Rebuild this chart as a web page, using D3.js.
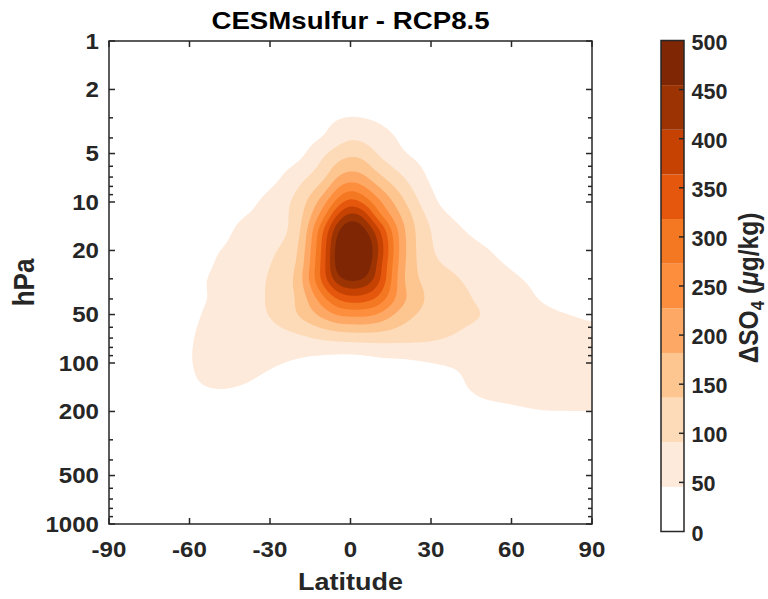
<!DOCTYPE html>
<html><head><meta charset="utf-8">
<script src="https://cdn.jsdelivr.net/npm/d3@7"></script>
<style>body{margin:0;background:#fff;} svg{display:block;}</style>
</head><body>
<svg id="chart" width="768" height="599"></svg>
<script>
// ---------------- data ----------------
const latitudes = [-90,-80,-70,-60,-50,-40,-30,-20,-10,-5,0,5,10,20,30,40,50,60,70,80,90];
const pressures = [1,2,3,4,5,7,10,12,15,20,25,30,40,50,70,100,150,200,300,500,1000];
// delta SO4 (ug/kg), one row per pressure level, columns follow latitudes
const so4 = [
  [0,0,0,0,0,0,0,0,0,0,0,0,0,0,0,0,0,0,0,0,0],
  [0,0,0,0,0,0,0,3,8,12,15,14,12,6,2,0,0,0,0,0,0],
  [0,0,0,0,1,4,10,22,35,43,47,45,40,25,12,6,2,1,0,0,0],
  [1,1,1,2,4,8,15,28,46,70,87,80,65,38,20,10,5,2,1,1,1],
  [2,2,2,4,8,14,22,30,85,112,128,120,88,47,30,18,10,5,2,2,2],
  [2,2,2,4,8,15,30,72,125,182,205,190,150,90,38,20,10,5,2,2,2],
  [2,2,2,5,12,28,62,105,210,290,340,305,245,140,58,20,14,6,2,2,2],
  [2,2,3,7,18,42,68,110,255,365,425,395,290,165,75,36,20,9,4,2,2],
  [2,2,4,10,25,58,75,115,320,445,505,470,385,185,90,52,28,12,6,3,2],
  [3,5,10,20,43,62,85,130,340,480,550,520,420,190,95,72,50,30,15,8,5],
  [4,7,14,28,48,68,91,140,345,475,530,505,400,185,105,82,60,42,26,16,11],
  [6,10,18,35,52,75,95,150,345,440,470,455,390,180,118,93,72,52,38,25,18],
  [6,10,20,38,50,78,95,140,260,320,345,340,310,190,125,102,82,60,45,32,25],
  [5,8,18,38,55,76,93,136,200,232,240,240,225,155,118,100,90,68,55,47,40],
  [5,8,20,42,60,66,72,80,98,104,108,110,110,105,98,86,76,68,62,58,55],
  [3,6,18,43,62,58,50,40,28,24,22,26,32,36,44,50,58,62,64,64,64],
  [2,5,12,35,44,40,30,22,16,15,14,14,15,18,28,38,54,58,60,60,60],
  [1,3,6,12,14,12,8,6,5,5,5,5,6,8,12,20,30,38,44,45,45],
  [1,2,3,4,5,5,4,3,3,3,3,3,3,3,4,6,10,14,18,20,20],
  [0,1,1,2,2,2,2,2,2,2,2,2,2,2,2,2,3,4,5,5,5],
  [0,0,0,0,0,0,0,0,0,0,0,0,0,0,0,0,0,0,0,0,0]
];
const levels = [45.45, 90.91, 136.36, 181.82, 227.27, 272.73, 318.18, 363.64, 409.09, 454.55];
const colors = ["#ffffff","#feeadb","#fddbb8","#fdc590","#fda864","#fd8e3d","#f47722","#e4570d","#c64203","#9c3303","#7f2704"];
const xTicks = [-90,-60,-30,0,30,60,90];
const yTicks = [1,2,5,10,20,50,100,200,500,1000];
const yMinorTicks = [3,4,6,7,8,9,30,40,60,70,80,90,300,400,600,700,800,900];
const cbTicks = [0,50,100,150,200,250,300,350,400,450,500];
const cbMax = 500;

// ---------------- layout ----------------
const L = 109, T = 41, R = 592, B = 524;
const CBX0 = 661, CBX1 = 684, CBT = 40.5, CBB = 531.5;
const ink = "#262626";
const FONT = "'Liberation Sans', Arial, Helvetica, sans-serif";

const svg = d3.select("#chart");
const x = d3.scaleLinear().domain([-90, 90]).range([L, R]);
const y = d3.scaleLog().domain([1, 1000]).range([T, B]);
const cbY = d3.scaleLinear().domain([0, cbMax]).range([CBB, CBT]);

// ---------------- smooth field for rendering (cubic Hermite, Catmull-Rom tangents) ----------------
function tangents(xs, ys) {
  const n = xs.length, m = new Array(n);
  m[0] = (ys[1] - ys[0]) / (xs[1] - xs[0]);
  m[n-1] = (ys[n-1] - ys[n-2]) / (xs[n-1] - xs[n-2]);
  for (let k = 1; k < n - 1; k++) m[k] = (ys[k+1] - ys[k-1]) / (xs[k+1] - xs[k-1]);
  return m;
}
function interp(xs, ys, ms, v) {
  const n = xs.length;
  const k = Math.min(Math.max(d3.bisectRight(xs, v) - 1, 0), n - 2);
  const h = xs[k+1] - xs[k], t = (v - xs[k]) / h, t2 = t * t, t3 = t2 * t;
  return (2*t3 - 3*t2 + 1) * ys[k] + (t3 - 2*t2 + t) * h * ms[k] + (-2*t3 + 3*t2) * ys[k+1] + (t3 - t2) * h * ms[k+1];
}
const nx = 242, ny = 242;
const logP = pressures.map(Math.log10);
const fLat = d3.range(nx).map(i => -90 + 180 * (i + 0.5) / nx);
const fLog = d3.range(ny).map(j => 3 * (j + 0.5) / ny);
const rowsFine = so4.map(row => { const m = tangents(latitudes, row); return fLat.map(v => interp(latitudes, row, m, v)); });
const grid = new Float64Array(nx * ny);
for (let i = 0; i < nx; i++) {
  const col = rowsFine.map(r => r[i]);
  const m = tangents(logP, col);
  for (let j = 0; j < ny; j++) grid[j * nx + i] = interp(logP, col, m, fLog[j]);
}
d3.blur2({data: grid, width: nx}, 2);
const contours = d3.contours().size([nx, ny]).thresholds(levels)(grid);
const proj = d3.geoTransform({ point: function(px, py) { this.stream.point(L + px * (R - L) / nx, T + py * (B - T) / ny); } });
const path = d3.geoPath(proj);

svg.append("clipPath").attr("id", "plotclip").append("rect").attr("x", L).attr("y", T).attr("width", R - L).attr("height", B - T);
svg.append("rect").attr("x", L).attr("y", T).attr("width", R - L).attr("height", B - T).attr("fill", colors[0]);
svg.append("g").attr("clip-path", "url(#plotclip)")
  .selectAll("path").data(contours).join("path")
  .attr("d", path)
  .attr("fill", d => colors[levels.indexOf(d.value) + 1])
  .attr("stroke", "none");

// ---------------- axes ----------------
const ax = svg.append("g").attr("stroke", ink).attr("stroke-width", 1.5).attr("fill", "none");
const majorLen = 6, minorLen = 4;
xTicks.forEach(t => {
  ax.append("line").attr("x1", x(t)).attr("x2", x(t)).attr("y1", B).attr("y2", B - majorLen);
  ax.append("line").attr("x1", x(t)).attr("x2", x(t)).attr("y1", T).attr("y2", T + majorLen);
});
yTicks.forEach(t => {
  ax.append("line").attr("x1", L).attr("x2", L + majorLen).attr("y1", y(t)).attr("y2", y(t));
  ax.append("line").attr("x1", R).attr("x2", R - majorLen).attr("y1", y(t)).attr("y2", y(t));
});
yMinorTicks.forEach(t => {
  ax.append("line").attr("x1", L).attr("x2", L + minorLen).attr("y1", y(t)).attr("y2", y(t));
  ax.append("line").attr("x1", R).attr("x2", R - minorLen).attr("y1", y(t)).attr("y2", y(t));
});
ax.append("rect").attr("x", L).attr("y", T).attr("width", R - L).attr("height", B - T);

function label(px, py, str, size, anchor, sx, rot) {
  return svg.append("text")
    .attr("transform", `translate(${px},${py}) scale(${sx},1)` + (rot ? ` rotate(${rot})` : ""))
    .attr("text-anchor", anchor)
    .attr("font-family", FONT).attr("font-weight", "bold").attr("font-size", size)
    .attr("fill", ink).text(str);
}
yTicks.forEach(t => label(99, y(t) + 7.7, String(t), 21.5, "end", 1.12));
xTicks.forEach(t => label(x(t), 556.7, String(t), 21.5, "middle", 1.12));

label(350.5, 29.3, "CESMsulfur - RCP8.5", 24.7, "middle", 1.12).attr("fill", "#000");
label(350.5, 590, "Latitude", 24.5, "middle", 1.1);
label(34, 282.5, "hPa", 26, "middle", 1.12, -90);

// ---------------- colorbar ----------------
const cb = svg.append("g");
cb.selectAll("rect.bin").data(colors).join("rect")
  .attr("x", CBX0).attr("width", CBX1 - CBX0)
  .attr("y", (d, i) => cbY((i + 1) * cbMax / colors.length))
  .attr("height", (d, i) => cbY(i * cbMax / colors.length) - cbY((i + 1) * cbMax / colors.length))
  .attr("fill", d => d);
cbTicks.forEach(t => {
  if (t > 0 && t < cbMax) cb.append("line").attr("x1", CBX1).attr("x2", CBX1 - 5).attr("y1", cbY(t)).attr("y2", cbY(t)).attr("stroke", ink).attr("stroke-width", 1.5);
  label(691.5, cbY(t) + 9, String(t), 21.5, "start", 1.0);
});
cb.append("rect").attr("x", CBX0).attr("y", CBT).attr("width", CBX1 - CBX0).attr("height", CBB - CBT)
  .attr("fill", "none").attr("stroke", ink).attr("stroke-width", 1.5);

const cbl = svg.append("text")
  .attr("transform", "translate(758,288) scale(1.12,1) rotate(-90)")
  .attr("text-anchor", "middle").attr("font-family", FONT).attr("font-weight", "bold")
  .attr("font-size", 24.5).attr("fill", ink);
cbl.append("tspan").text("\u0394SO");
cbl.append("tspan").attr("font-size", 17).attr("dy", 5).text("4");
cbl.append("tspan").attr("dy", -5).text(" (");
cbl.append("tspan").attr("font-style", "italic").text("\u03bc");
cbl.append("tspan").text("g/kg)");
</script>
</body></html>
